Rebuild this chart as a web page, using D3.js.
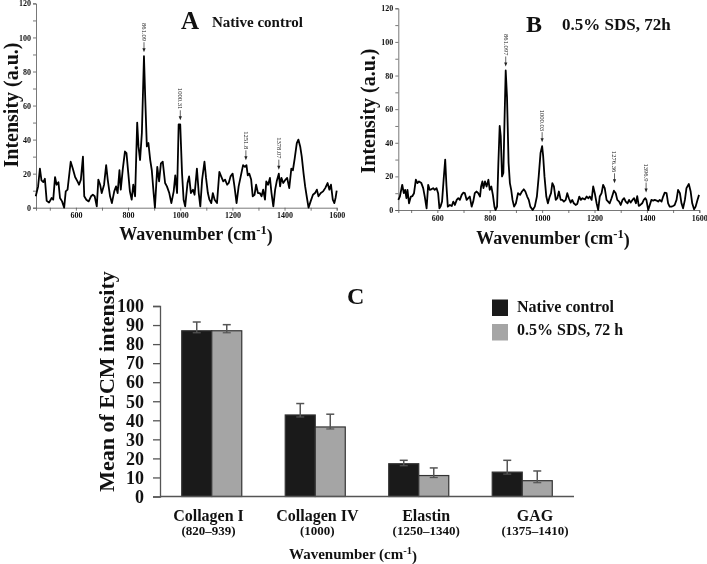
<!DOCTYPE html>
<html><head><meta charset="utf-8">
<script src="https://cdn.jsdelivr.net/npm/d3@7"></script>
<style>
body{margin:0;background:#fff}
svg{display:block;will-change:transform}
text{font-family:"Liberation Serif","Times New Roman",serif;font-weight:bold;fill:#111}
</style>
</head><body>
<svg id="c" width="707" height="564" font-family="Liberation Serif, serif"></svg>
<script>
// ---------- Panel A: native control spectrum ----------
const wnA = [446,455,462,468,475,481,488,497,507,513,520,526,533,539,547,555,561,568,580,588,597,606,612,619,627,632,640,649,658,665,672,680,686,693,699,708,716,722,731,738,747,754,760,767,772,780,788,794,801,807,814,820,827,835,840,846,853,861,866,872,878,885,891,898,903,912,919,926,933,942,949,958,966,975,981,988,994,1000,1007,1013,1019,1028,1034,1041,1049,1055,1064,1071,1077,1084,1093,1099,1106,1112,1119,1125,1132,1141,1150,1157,1165,1172,1180,1186,1193,1201,1208,1216,1224,1232,1241,1248,1254,1259,1265,1272,1278,1285,1291,1298,1305,1312,1318,1325,1330,1337,1344,1350,1357,1364,1370,1378,1383,1388,1395,1404,1410,1418,1426,1432,1439,1447,1453,1460,1466,1473,1479,1486,1492,1500,1509,1517,1524,1530,1539,1548,1556,1565,1572,1578,1585,1591,1596,1600];
const intA = [6.7,12.5,23,16,15,17,4,3,5.7,4.7,18,13.5,15,5.7,3.7,0,9.6,10.6,27,23,18,15.5,13.5,16.5,30,6.7,4.7,3.7,6.7,7.6,6.7,0.8,16.5,13.5,8.6,13.5,25,16.5,6.7,2.7,9.6,12.5,8.6,22,10.6,23,33,32,20,9.6,4.7,13.5,6.7,50,36,28,44,89,63.5,36,38,28,22,8.6,0,24,15.5,26,27,14.5,12.5,8.6,2.7,9.6,19,8.6,49,49,20,4.7,0.8,14.5,18.4,8.6,10.6,7.6,23,8.6,0.8,16.5,27,17.5,8.6,4.7,2.7,8.6,4.7,2.7,21,18.4,15.5,16.5,13.5,14.5,18.4,20,12.5,2.7,12.5,18.4,25,24,25,19,20,16.5,6.7,7.6,13.5,8.6,8.6,6.7,10.6,4.7,15.5,13.5,17.5,8.6,0.8,10.6,15.5,20,12.5,17.5,14.5,16.5,17.5,11.5,23,22,29,38,40,36,30,20,12.5,5.7,0,3.7,7.6,8.6,10.6,6.7,8.6,9.6,11.5,14.5,10.6,13.5,4.7,2.7,6,10];
const peakWnA = [861.09, 1000.31, 1251.8, 1378.07];
const peakLabelA = ["861.09", "1000.31", "1251.8", "1378.07"];
const peakIntA = [89, 49, 25.5, 20];

// ---------- Panel B: 0.5% SDS, 72h spectrum ----------
const wnB = [451,457,466,472,477,482,486,492,499,505,511,518,524,530,539,546,552,559,565,571,577,584,590,597,603,608,612,618,624,630,635,640,648,655,661,667,674,680,686,693,699,705,712,718,724,731,737,743,750,756,763,767,772,776,782,788,795,800,806,812,818,822,828,833,838,842,847,852,857,861,866,872,877,882,887,893,900,908,916,923,930,936,943,949,955,964,972,980,987,994,1000,1004,1009,1016,1022,1029,1034,1039,1045,1052,1058,1064,1071,1077,1083,1090,1096,1102,1109,1115,1121,1128,1134,1142,1148,1154,1163,1170,1176,1182,1189,1195,1201,1208,1214,1220,1227,1233,1239,1246,1252,1258,1265,1274,1281,1287,1294,1300,1307,1313,1319,1326,1332,1338,1345,1351,1358,1363,1369,1375,1382,1388,1394,1398,1405,1411,1417,1424,1430,1437,1443,1449,1456,1462,1468,1475,1481,1487,1494,1500,1506,1513,1519,1526,1532,1538,1545,1551,1560,1567,1573,1580,1586,1593,1599];
const intB = [6,8,15,10,12,7,12,4,8,8.3,10,18,16,17,16,13,8,1,15,12,12.3,13,12,13,10,1,2,5,18,30,14,2,3,2.4,5,3,6,7,6,9,10.3,10,6,7,8,2,5,10,11,10,8,14,17,13,17,14,18,12,14,9,2,0,2,28,50,44,20,22,57,83,67,28,16,12,6,2,4,10,9,11,12.3,11,8,6,2,0,2,8,20,34,38,32,20,8,4,8,10,16,14,6,7,11,6,6,5,6,10,7,4.4,6,4,3,3.6,8,6,7,6.3,8,7,8,6,14,10,4,0,8,10,15,13,6,5,4,7,11.5,10,6,5,3,6,7,5,4,6,4.4,6,7,4,8.3,2.4,3,4,6,7,6,0,3,6,5.6,6,5.6,5,6,5,8,10.3,10,4,2,2,2.4,3,6,12,10,4,1,6,13,15.5,11,4,0.4,2,6,9];
const peakWnB = [861.097, 1000.03, 1276.36, 1396.9];
const peakLabelB = ["861.097", "1000.03", "1276.36", "1396.9"];
const peakIntB = [83, 38, 13.5, 8];

// shared spectrum axis ticks
const specXTicks = [500,600,700,800,900,1000,1100,1200,1300,1400,1500,1600];
const specXLabels = [600,800,1000,1200,1400,1600];
const specYTicks = [0,10,20,30,40,50,60,70,80,90,100,110,120];
const specYLabels = [0,20,40,60,80,100,120];

// ---------- Panel C: bar chart ----------
const categories = ["Collagen I", "Collagen IV", "Elastin", "GAG"];
const categoryRanges = ["(820–939)", "(1000)", "(1250–1340)", "(1375–1410)"];
const seriesNames = ["Native control", "0.5% SDS, 72 h"];
const nativeMean = [87, 42.8, 17.2, 12.8];
const nativeErr = [4.6, 6, 1.8, 6.2];
const sdsMean = [87, 36.5, 11, 8.3];
const sdsErr = [3.2, 6.7, 4, 5.1];
const barYTicks = [0,10,20,30,40,50,60,70,80,90,100];

const svg = d3.select("#c");
const SERIF = '"Liberation Serif","Times New Roman",serif';

function drawSpectrum(o) {
  const x = d3.scaleLinear().domain(o.xDomain).range(o.xRange);
  const y = d3.scaleLinear().domain([0, 120]).range(o.yRange);
  const g = svg.append("g");
  const xa = g.append("g").attr("transform", `translate(0,${o.yRange[0]})`)
    .call(d3.axisBottom(x).tickValues(specXTicks).tickSize(3).tickPadding(2)
      .tickFormat(d => specXLabels.includes(d) ? d : ""));
  const ya = g.append("g").attr("transform", `translate(${o.xRange[0]},0)`)
    .call(d3.axisLeft(y).tickValues(specYTicks).tickSize(3).tickPadding(2)
      .tickFormat(d => specYLabels.includes(d) ? d : ""));
  [xa, ya].forEach(a => {
    a.attr("font-family", SERIF);
    a.select(".domain").attr("stroke", "#555").attr("stroke-width", 0.8);
    a.selectAll(".tick line").attr("stroke", "#555").attr("stroke-width", 0.8);
    a.selectAll(".tick text").style("font-size", "8px").style("font-weight", "bold")
      .style("font-family", SERIF).attr("fill", "#222");
  });
  const pts = o.wn.map((w, i) => [w, o.int[i]]);
  g.append("path").datum(pts)
    .attr("fill", "none").attr("stroke", "#000").attr("stroke-width", 1.8)
    .attr("stroke-linejoin", "round")
    .attr("d", d3.line().x(d => x(d[0])).y(d => y(d[1])));
  o.peakWn.forEach((w, i) => {
    const px = x(w), tip = y(o.peakInt[i]) - 4;
    g.append("line").attr("x1", px).attr("x2", px).attr("y1", tip - 10).attr("y2", tip - 3)
      .attr("stroke", "#222").attr("stroke-width", 0.7);
    g.append("path").attr("d", `M${px - 1.6},${tip - 4}L${px + 1.6},${tip - 4}L${px},${tip}Z`).attr("fill", "#222");
    g.append("text").attr("transform", `translate(${px},${tip - 11}) rotate(90)`)
      .attr("text-anchor", "end").attr("dy", "0.32em")
      .style("font-size", "6.6px").style("font-weight", "normal").text(o.peakLabel[i]);
  });
  g.append("text").attr("transform", `translate(${o.yLabelX},${o.yLabelY}) rotate(-90)`)
    .attr("text-anchor", "middle").style("font-size", "20px").text("Intensity (a.u.)");
  const xl = g.append("text").attr("x", o.xLabelX).attr("y", o.xLabelY)
    .attr("text-anchor", "middle").style("font-size", o.xLabelSize + "px");
  xl.append("tspan").text("Wavenumber (cm");
  xl.append("tspan").attr("dy", "-0.45em").style("font-size", "0.7em").text("-1");
  xl.append("tspan").attr("dy", "0.45em").text(")");
  g.append("text").attr("x", o.letterX).attr("y", o.letterY).style("font-size", o.letterSize + "px").text(o.letter);
  g.append("text").attr("x", o.titleX).attr("y", o.titleY).style("font-size", o.titleSize + "px").text(o.title);
}

drawSpectrum({
  wn: wnA, int: intA, peakWn: peakWnA, peakLabel: peakLabelA, peakInt: peakIntA,
  xDomain: [447, 1600], xRange: [36, 336.7], yRange: [207.7, 3.4],
  yLabelX: 18, yLabelY: 105, xLabelX: 196, xLabelY: 240, xLabelSize: 18,
  letter: "A", letterX: 181, letterY: 29, letterSize: 25,
  title: "Native control", titleX: 212, titleY: 27, titleSize: 15
});
drawSpectrum({
  wn: wnB, int: intB, peakWn: peakWnB, peakLabel: peakLabelB, peakInt: peakIntB,
  xDomain: [451, 1600], xRange: [398.3, 699.3], yRange: [210, 8.3],
  yLabelX: 375, yLabelY: 111, xLabelX: 553, xLabelY: 244, xLabelSize: 18,
  letter: "B", letterX: 526, letterY: 32, letterSize: 24,
  title: "0.5% SDS, 72h", titleX: 562, titleY: 30, titleSize: 17
});

// ---------- Panel C ----------
const cx = d3.scaleBand().domain(categories).range([160, 574]).paddingInner(0.42).paddingOuter(0.21);
const sub = d3.scaleBand().domain(seriesNames).range([0, cx.bandwidth()]);
const cy = d3.scaleLinear().domain([0, 100]).range([496.5, 306]);
const gc = svg.append("g");

const colors = ["#1a1a1a", "#a5a5a5"];
const series = [
  {name: seriesNames[0], mean: nativeMean, err: nativeErr},
  {name: seriesNames[1], mean: sdsMean, err: sdsErr}
];
series.forEach((s, si) => {
  categories.forEach((c, i) => {
    const bx = cx(c) + sub(s.name), bw = sub.bandwidth();
    gc.append("rect").attr("x", bx).attr("y", cy(s.mean[i])).attr("width", bw)
      .attr("height", cy(0) - cy(s.mean[i]))
      .attr("fill", colors[si]).attr("stroke", "#333").attr("stroke-width", 1.2);
    const ex = bx + bw / 2, top = cy(s.mean[i] + s.err[i]), base = cy(s.mean[i]) + 2;
    gc.append("line").attr("x1", ex).attr("x2", ex).attr("y1", base).attr("y2", top)
      .attr("stroke", "#555").attr("stroke-width", 1.5);
    gc.append("line").attr("x1", ex - 4).attr("x2", ex + 4).attr("y1", top).attr("y2", top)
      .attr("stroke", "#555").attr("stroke-width", 1.5);
    gc.append("line").attr("x1", ex - 4).attr("x2", ex + 4).attr("y1", base).attr("y2", base)
      .attr("stroke", "#555").attr("stroke-width", 1.2);
  });
});

const cya = gc.append("g").attr("transform", "translate(160,0)")
  .call(d3.axisLeft(cy).tickValues(barYTicks).tickSize(7).tickPadding(9));
cya.attr("font-family", SERIF);
cya.select(".domain").attr("stroke", "#555").attr("stroke-width", 1.3);
cya.selectAll(".tick line").attr("stroke", "#555").attr("stroke-width", 1.3);
cya.selectAll(".tick text").style("font-size", "18px").style("font-weight", "bold")
  .style("font-family", SERIF).attr("fill", "#111");
gc.append("line").attr("x1", 160).attr("x2", 574).attr("y1", cy(0)).attr("y2", cy(0))
  .attr("stroke", "#555").attr("stroke-width", 1.3);

const labX = d3.scalePoint().domain(categories).range([208.5, 535]);
categories.forEach((c, i) => {
  gc.append("text").attr("x", labX(c)).attr("y", 521).attr("text-anchor", "middle")
    .style("font-size", "16px").text(c);
  gc.append("text").attr("x", labX(c)).attr("y", 534.5).attr("text-anchor", "middle")
    .style("font-size", "13px").text(categoryRanges[i]);
});
const cxl = gc.append("text").attr("x", 353).attr("y", 559).attr("text-anchor", "middle").style("font-size", "15px");
cxl.append("tspan").text("Wavenumber (cm");
cxl.append("tspan").attr("dy", "-0.45em").style("font-size", "0.7em").text("-1");
cxl.append("tspan").attr("dy", "0.45em").text(")");

gc.append("text").attr("transform", "translate(114,381.5) rotate(-90)").attr("text-anchor", "middle")
  .style("font-size", "22px").text("Mean of ECM intensity");
gc.append("text").attr("x", 347).attr("y", 304).style("font-size", "24px").text("C");

seriesNames.forEach((n, i) => {
  gc.append("rect").attr("x", 492).attr("y", 299.5 + i * 24.5).attr("width", 16).attr("height", 16.5).attr("fill", colors[i]);
  gc.append("text").attr("x", 517).attr("y", 312 + i * 23).style("font-size", "16px").text(n);
});
</script>
</body></html>
